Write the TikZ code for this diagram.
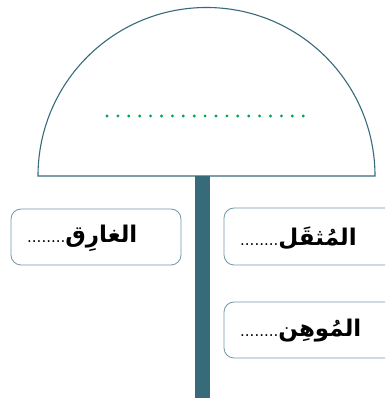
\documentclass[tikz,border=0pt]{standalone}
\usepackage{fontspec}
\TeXXeTstate=1
\newfontfamily\arabicfont[Script=Arabic]{DejaVu Sans}
\definecolor{teal1}{HTML}{386B7A}
\definecolor{teal2}{HTML}{6E98A3}
\definecolor{dotgreen}{HTML}{00A651}
\newcommand{\blankdots}{{\mdseries\fontsize{15}{18}\selectfont ........}}
\tikzset{
  answerbox/.style={draw=teal2, line width=0.8pt, rounded corners=10pt},
  wordtext/.style={anchor=west, inner sep=0pt, font=\arabicfont\bfseries\fontsize{23}{26}\selectfont}
}
\begin{document}
\begin{tikzpicture}[x=1pt,y=1pt]
\useasboundingbox (0,0) rectangle (385,398);
\begin{scope}
\clip (0,0) rectangle (385,398);
% pole
\fill[teal1] (195,0) rectangle (210,222);
% semicircle
\draw[teal1, line width=1.1pt] (38,222) arc (180:0:168.5) -- cycle;
% green dotted line
\foreach \i in {0,...,18} \fill[dotgreen] (107+\i*10.9,282) circle (1.6);
% boxes
\draw[answerbox] (11,133) rectangle (181,189);
\draw[answerbox] (224,133) rectangle (400,190);
\draw[answerbox] (224,40) rectangle (400,96);
\end{scope}
\node[wordtext] (t1) at (27,160) {\beginR الغارِق\blankdots\endR};
\node[wordtext] (t2) at (240,160) {\beginR المُثقَل\blankdots\endR};
\node[wordtext] (t3) at (240,67) {\beginR المُوهِن\blankdots\endR};
\end{tikzpicture}
\end{document}
